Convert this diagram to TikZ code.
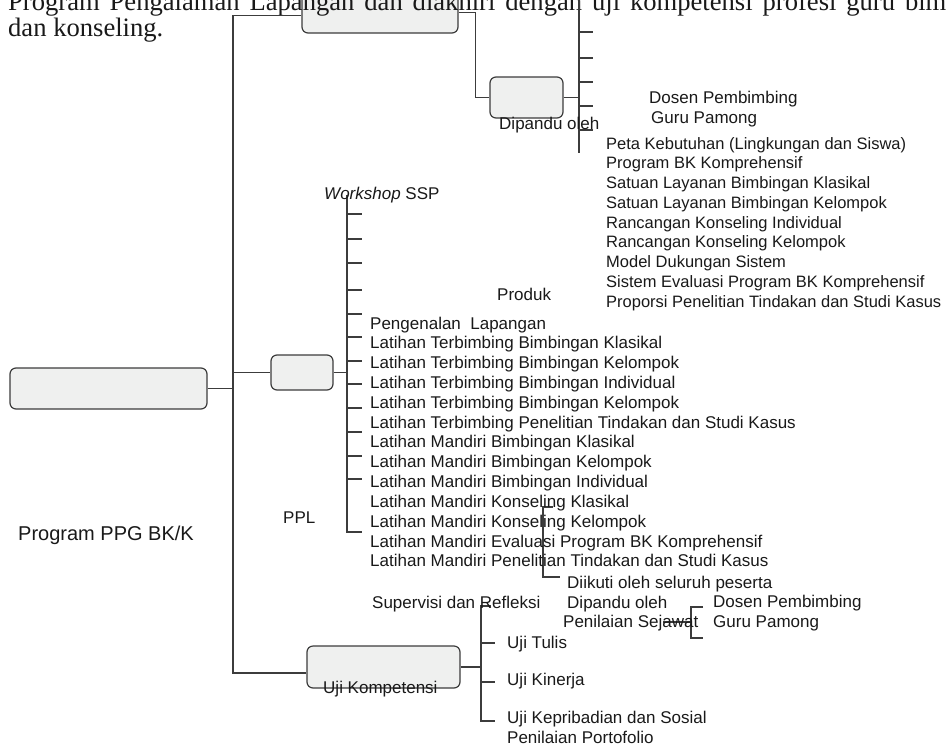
\documentclass[tikz,border=0pt]{standalone}
\usepackage{fontspec}
\setmainfont{Liberation Serif}
\setsansfont{Liberation Sans}
\definecolor{boxfill}{HTML}{EFF0EF}
\definecolor{linegray}{HTML}{3C3C3C}
\newcommand\diagfont{\sffamily\fontsize{17}{19.75}\selectfont}
\begin{document}
\begin{tikzpicture}[x=1pt,y=-1pt,
  main box/.style={draw=linegray,fill=boxfill,rounded corners=6pt,line width=1.2pt,inner sep=0pt},
  txt/.style={font=\diagfont,anchor=west,inner sep=0pt,text height=12pt,text depth=0pt,text=black!90},
  body/.style={font=\fontsize{26.6}{26}\selectfont,anchor=base west,inner sep=0pt,text=black!90},
  conn/.style={draw=linegray,line width=1.2pt}]

  \useasboundingbox (0,0) rectangle (947,747);

  \node[main box,minimum width=197pt,minimum height=41pt] (ppg) at (108.5,388.5) {};
  \node[main box,minimum width=156pt,minimum height=41pt] (ws) at (380,12.5) {};
  \node[main box,minimum width=73pt,minimum height=41pt] (prod) at (526.5,97.5) {};
  \node[main box,minimum width=62pt,minimum height=35pt] (ppl) at (302,372.5) {};
  \node[main box,minimum width=153pt,minimum height=42pt] (uji) at (383.5,667) {};

  \node[body] (par1) at (8,10) {\spaceskip=9.9pt\relax Program Pengalaman Lapangan dan diakhiri dengan uji kompetensi profesi guru bim};
  \node[body] (par2) at (8,36) {dan konseling.};

  \coordinate (ttop) at (233,15.7);
  \coordinate (tbot) at (233,673);
  \draw[conn] (ttop -| ws.west) -- (ttop) -- (tbot) -- (tbot -| uji.west);
  \draw[conn] (ppg.east) -- (ppg.east -| ttop);
  \draw[conn] (ppl.west -| ttop) -- (ppl.west);
  \draw[conn] (ws.east) -- ++(17,0) |- (prod.west);

  \coordinate (pb) at (579,-5);
  \draw[conn] (pb) -- ++(0,158);
  \draw[conn] (prod.east) -- (prod.east -| pb);
  \foreach \y in {32,58,82,106,130}
    \draw[conn] (579,\y) -- ++(14,0);

  \coordinate (pl) at (347,195);
  \draw[conn] (ppl.east) -- (ppl.east -| pl);
  \draw[conn] (pl) -- (347,532) -- ++(15,0);
  \foreach \y in {214,239,263,290,314,337,361,384,408,432,456,479}
    \draw[conn] (347,\y) -- ++(15,0);

  \draw[conn] (553,507) -- (543,507) -- (543,577) -- (560,577);
  \draw[conn] (663,622) -- (691,622);
  \draw[conn] (703,607) -- (691,607) -- (691,638) -- (703,638);

  \coordinate (ub) at (481,606);
  \draw[conn] (uji.east) -- (uji.east -| ub);
  \draw[conn] (491,606) -- (ub) -- (481,721) -- ++(14,0);
  \foreach \y in {643,682}
    \draw[conn] (481,\y) -- ++(14,0);

  \node[txt] (wslbl) at (324,193) {\textit{Workshop} SSP};
  \node[txt] (guide1) at (499,123) {Dipandu oleh};
  \node[txt] (dosen1) at (649,97) {Dosen Pembimbing};
  \node[txt] (pamong1) at (651,117) {Guru Pamong};
  \node[txt] (prodlbl) at (497,294) {Produk};
  \foreach \t [count=\i from 0] in {Peta Kebutuhan (Lingkungan dan Siswa),Program BK Komprehensif,
    Satuan Layanan Bimbingan Klasikal,Satuan Layanan Bimbingan Kelompok,Rancangan Konseling Individual,
    Rancangan Konseling Kelompok,Model Dukungan Sistem,Sistem Evaluasi Program BK Komprehensif,
    Proporsi Penelitian Tindakan dan Studi Kasus}
    \node[txt,font=\sffamily\fontsize{16.5}{19.75}\selectfont] (prod\i) at (606,143+19.75*\i) {\t};

  \foreach \t [count=\i from 0] in {Pengenalan~ Lapangan,Latihan Terbimbing Bimbingan Klasikal,
    Latihan Terbimbing Bimbingan Kelompok,Latihan Terbimbing Bimbingan Individual,
    Latihan Terbimbing Bimbingan Kelompok,Latihan Terbimbing Penelitian Tindakan dan Studi Kasus,
    Latihan Mandiri Bimbingan Klasikal,Latihan Mandiri Bimbingan Kelompok,Latihan Mandiri Bimbingan Individual,
    Latihan Mandiri Konseling Klasikal,Latihan Mandiri Konseling Kelompok,
    Latihan Mandiri Evaluasi Program BK Komprehensif,Latihan Mandiri Penelitian Tindakan dan Studi Kasus}
    \node[txt] (ppl\i) at (370,323+19.83*\i) {\t};

  \node[txt] (ppllbl) at (283,517) {PPL};
  \node[txt,font=\sffamily\fontsize{20}{22}\selectfont,text height=14pt] (ppglbl) at (18,533) {Program PPG BK/K};
  \node[txt] (ikut) at (567,582) {Diikuti oleh seluruh peserta};
  \node[txt] (superv) at (372,602) {Supervisi dan Refleksi};
  \node[txt] (guide2) at (567,602) {Dipandu oleh};
  \node[txt] (dosen2) at (713,601) {Dosen Pembimbing};
  \node[txt] (sejawat) at (563,621) {Penilaian Sejawat};
  \node[txt] (pamong2) at (713,621) {Guru Pamong};
  \node[txt] (ujilbl) at (323,687) {Uji Kompetensi};
  \node[txt] (tulis) at (507,642) {Uji Tulis};
  \node[txt] (kinerja) at (507,679) {Uji Kinerja};
  \node[txt] (pribadi) at (507,717) {Uji Kepribadian dan Sosial};
  \node[txt] (porto) at (507,737) {Penilaian Portofolio};
\end{tikzpicture}
\end{document}
